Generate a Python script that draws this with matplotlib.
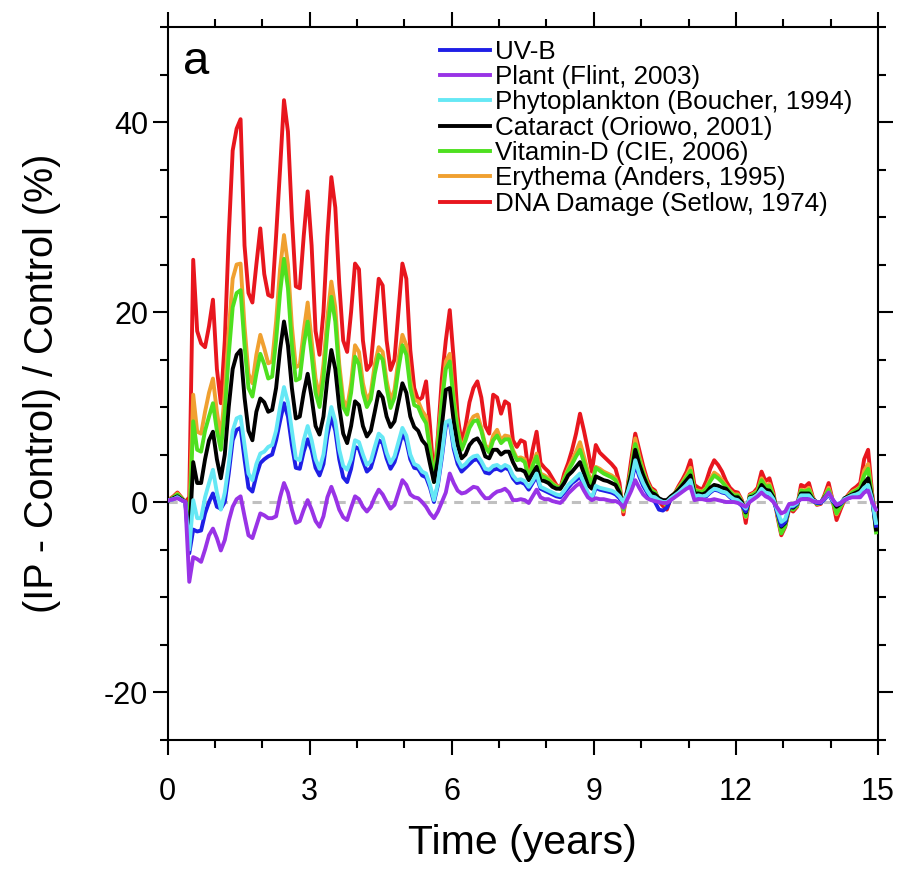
import numpy as np
import matplotlib
matplotlib.use("Agg")
import matplotlib.pyplot as plt
from matplotlib.ticker import MultipleLocator

# monthly means, mid-month time axis (years)
years = (np.arange(180) + 0.5) / 12.0

uvb = [0.2, 0.3, 0.5, 0.2, 0.0, -5.4, -2.9, -3.1, -3.0, -1.2,
       0.0, 0.9, -0.5, -0.7, 0.0, 3.0, 6.5, 7.6, 7.8, 4.5,
       1.5, 1.1, 2.8, 4.1, 4.5, 4.8, 5.0, 6.5, 8.5, 10.4,
       9.0, 6.0, 3.6, 3.5, 5.3, 6.6, 5.5, 3.6, 2.8, 4.0,
       7.0, 9.0, 7.5, 4.5, 2.6, 2.1, 3.5, 5.8, 5.6, 4.3,
       3.2, 3.6, 5.0, 6.5, 6.2, 4.6, 3.5, 4.2, 5.6, 7.2,
       6.4, 4.5, 3.6, 3.5, 2.8, 2.6, 1.5, 0.0, 1.8, 4.7,
       8.0, 8.4, 5.6, 4.0, 3.2, 3.6, 4.0, 4.4, 4.5, 3.9,
       3.1, 3.0, 3.4, 3.5, 3.3, 3.6, 3.4, 2.5, 2.0, 2.1,
       1.9, 1.3, 2.0, 2.7, 1.4, 1.2, 1.0, 0.8, 0.6, 0.5,
       1.0, 1.5, 2.0, 2.3, 2.7, 1.7, 0.8, 0.3, 1.5, 1.3,
       1.2, 1.1, 1.0, 0.8, 0.4, -0.3, 0.7, 2.0, 4.0, 2.7,
       1.7, 1.0, 0.4, 0.0, -0.8, -0.9, -0.6, 0.3, 0.6, 0.9,
       1.3, 1.7, 2.1, 0.5, 0.6, 0.5, 0.6, 1.0, 1.3, 1.2,
       1.0, 0.9, 0.5, 0.2, 0.0, -0.4, -1.0, 0.3, 0.4, 0.7,
       1.3, 0.9, 0.8, 0.2, -1.1, -2.5, -2.1, -0.5, -0.5, -0.2,
       0.6, 0.6, 0.6, 0.1, -0.1, -0.1, 0.3, 0.8, 0.1, -0.3,
       -0.2, 0.2, 0.4, 0.6, 0.7, 0.9, 1.3, 1.6, 0.2, -2.5]

plant = [0.2, 0.3, 0.4, 0.2, 0.0, -8.4, -5.8, -6.0, -6.3, -5.0,
         -3.5, -2.8, -3.8, -5.1, -4.0, -2.0, -0.5, 0.3, 0.6, -1.5,
         -3.5, -3.8, -2.5, -1.2, -1.4, -1.7, -1.7, -1.5, 0.5, 2.0,
         1.0, -0.8, -2.2, -2.0, -0.8, 0.2, -0.8, -2.0, -2.6, -1.5,
         0.5, 1.6, 0.5, -0.8, -1.6, -1.9, -0.6, 0.6, 0.3, -0.5,
         -1.0, -0.5, 0.5, 1.3, 0.8, 0.0, -0.7, -0.3, 1.0, 2.3,
         1.8, 0.8, 0.5, 0.4, 0.0, -0.5, -1.2, -1.7, -1.0, 0.0,
         1.0, 3.0, 2.0, 1.2, 0.9, 1.0, 1.3, 1.6, 1.5, 0.9,
         0.4, 0.4, 0.8, 1.1, 1.2, 1.4, 1.0, 0.2, 0.2, 0.3,
         0.2, -0.1, 0.6, 1.3, 0.5, 0.3, 0.3, 0.1, 0.0, -0.1,
         0.3, 0.9, 1.3, 1.7, 2.0, 1.2, 0.5, 0.2, 0.4, 0.3,
         0.3, 0.2, 0.1, 0.1, -0.1, -0.6, 0.3, 1.2, 2.3, 1.5,
         0.8, 0.4, 0.2, 0.1, 0.0, -0.1, -0.1, 0.2, 0.5, 0.8,
         1.1, 1.4, 1.6, 0.2, 0.3, 0.3, 0.2, 0.2, 0.3, 0.2,
         0.1, 0.0, 0.0, 0.0, -0.1, -0.3, -0.5, 0.0, 0.3, 0.6,
         1.0, 0.6, 0.4, 0.0, -0.6, -1.2, -1.0, -0.2, -0.2, 0.0,
         0.3, 0.3, 0.3, 0.1, 0.0, 0.0, 0.4, 1.0, 0.3, -0.3,
         -0.1, 0.2, 0.4, 0.5, 0.5, 0.5, 1.0, 1.2, 0.0, -0.8]

phyto = [0.2, 0.3, 0.5, 0.2, 0.0, -5.0, 0.2, -1.7, -1.7, 0.5,
         2.0, 3.4, 1.0, -0.8, 1.0, 4.0, 7.5, 8.8, 9.0, 6.0,
         3.0, 2.3, 4.0, 5.1, 5.3, 5.8, 6.0, 7.5, 10.0, 12.1,
         10.5, 7.5, 4.6, 4.4, 6.5, 8.0, 6.5, 4.5, 3.5, 5.0,
         8.0, 10.0, 8.5, 5.5, 3.8, 3.4, 4.5, 6.5, 6.3, 5.0,
         3.9, 4.3, 5.8, 7.2, 6.8, 5.2, 4.1, 4.8, 6.3, 7.8,
         7.0, 5.0, 4.0, 3.8, 3.2, 3.0, 1.8, 0.2, 2.0, 5.0,
         8.4, 8.6, 6.0, 4.5, 3.7, 4.0, 4.5, 4.8, 4.9, 4.3,
         3.5, 3.4, 3.8, 3.9, 3.6, 3.9, 3.7, 2.8, 2.3, 2.4,
         2.2, 1.6, 2.2, 3.0, 1.6, 1.4, 1.2, 1.0, 0.8, 0.7,
         1.2, 1.8, 2.2, 2.6, 3.0, 2.0, 1.0, 0.4, 1.7, 1.5,
         1.4, 1.3, 1.2, 1.0, 0.6, 0.0, 0.9, 2.3, 4.4, 3.0,
         2.0, 1.2, 0.6, 0.5, 0.2, 0.0, 0.0, 0.4, 0.7, 1.0,
         1.4, 1.8, 2.3, 0.6, 0.7, 0.6, 0.7, 1.1, 1.4, 1.3,
         1.1, 1.0, 0.6, 0.3, 0.2, -0.2, -0.7, 0.4, 0.5, 0.8,
         1.4, 1.0, 0.9, 0.3, -0.9, -2.1, -1.8, -0.4, -0.4, -0.1,
         0.7, 0.7, 0.7, 0.2, 0.0, 0.0, 0.4, 0.9, 0.2, -0.2,
         -0.1, 0.3, 0.5, 0.7, 0.8, 1.0, 1.5, 1.8, 0.3, -2.2]

cataract = [0.2, 0.4, 0.6, 0.3, 0.0, -4.0, 4.2, 2.0, 2.0, 4.5,
            6.5, 7.4, 4.5, 2.5, 5.0, 10.0, 14.0, 15.5, 16.0, 11.0,
            7.5, 6.5, 9.5, 10.9, 10.5, 9.5, 9.7, 12.0, 16.0, 19.0,
            16.5, 12.0, 8.8, 9.0, 11.5, 13.5, 11.0, 8.0, 7.1, 9.0,
            13.0, 16.0, 14.0, 10.0, 7.2, 6.2, 8.0, 10.6, 10.2, 8.0,
            6.9, 7.5, 9.5, 11.6, 11.0, 9.0, 7.9, 8.5, 10.5, 12.5,
            11.5, 9.0, 7.9, 7.5, 6.5, 6.0, 4.0, 2.1, 4.5, 8.0,
            11.8, 12.0, 8.5, 6.0, 4.6, 5.0, 6.0, 6.5, 6.7, 6.0,
            4.8, 4.6, 5.5, 5.5, 5.0, 5.3, 5.3, 4.2, 3.4, 3.4,
            3.2, 2.3, 3.0, 3.7, 2.3, 2.2, 2.0, 1.6, 1.4, 1.4,
            2.0, 2.8, 3.2, 3.7, 4.2, 3.0, 1.8, 1.4, 2.7, 2.5,
            2.3, 2.2, 2.0, 1.8, 1.0, -0.3, 1.2, 3.0, 5.5, 4.0,
            2.8, 1.8, 1.0, 0.8, 0.4, 0.2, 0.2, 0.6, 0.9, 1.3,
            1.8, 2.3, 2.8, 0.9, 0.9, 0.8, 1.0, 1.5, 1.8, 1.7,
            1.5, 1.4, 0.9, 0.5, 0.5, 0.0, -1.1, 0.5, 0.6, 0.9,
            1.8, 1.3, 1.2, 0.5, -1.0, -2.6, -2.2, -0.5, -0.6, -0.2,
            0.9, 0.9, 0.9, 0.3, 0.0, 0.0, 0.5, 0.9, 0.2, -0.5,
            -0.2, 0.4, 0.6, 0.8, 1.0, 1.2, 2.0, 2.5, 0.5, -2.9]

vitamin_d = [0.2, 0.5, 0.8, 0.4, 0.0, -2.5, 8.5, 5.5, 5.3, 7.5,
             9.0, 10.4, 7.5, 5.5, 9.5, 15.5, 20.5, 22.0, 22.3, 16.5,
             12.0, 11.1, 13.5, 15.6, 14.5, 13.0, 13.2, 17.0, 22.0, 25.6,
             22.5, 16.5, 12.8, 13.0, 16.5, 19.0, 15.5, 11.5, 10.0, 13.0,
             18.0, 21.6, 19.0, 13.5, 10.0, 9.2, 11.5, 15.3, 14.5, 11.5,
             10.0, 10.8, 13.5, 15.5, 15.0, 12.0, 9.9, 11.0, 14.0, 16.5,
             15.5, 12.0, 10.2, 10.0, 9.0, 8.3, 5.5, 2.1, 6.0, 10.5,
             14.0, 14.8, 10.5, 7.5, 5.5, 6.5, 7.8, 8.5, 8.6, 7.5,
             5.8, 5.2, 6.5, 7.0, 6.2, 6.6, 6.6, 5.3, 4.4, 4.5,
             4.2, 2.5, 3.8, 4.8, 2.8, 2.6, 2.3, 1.9, 1.6, 1.4,
             2.4, 3.3, 4.0, 4.8, 5.5, 4.2, 2.8, 1.8, 3.6, 3.3,
             3.0, 2.8, 2.6, 2.3, 1.3, -0.8, 1.2, 3.5, 6.1, 4.5,
             3.1, 2.0, 1.2, 1.0, 0.3, 0.0, -0.3, 0.5, 0.9, 1.4,
             2.0, 2.6, 3.3, 1.2, 1.1, 1.0, 1.4, 2.2, 2.8, 2.5,
             2.1, 1.6, 1.1, 0.7, 0.7, 0.0, -1.5, 0.6, 0.8, 1.1,
             2.3, 1.6, 1.7, 0.6, -1.2, -3.3, -2.5, -0.6, -0.8, -0.4,
             1.2, 1.1, 1.3, 0.3, -0.2, -0.1, 0.6, 1.3, 0.1, -1.2,
             -0.5, 0.3, 0.6, 1.0, 1.2, 1.5, 2.8, 3.5, 0.6, -3.2]

erythema = [0.3, 0.5, 0.9, 0.4, 0.0, -1.5, 11.3, 7.4, 7.2, 9.5,
            11.5, 13.0, 9.5, 6.7, 11.5, 18.0, 23.5, 25.0, 25.1, 18.5,
            13.5, 12.5, 15.5, 17.6, 16.2, 14.6, 14.8, 19.0, 24.5, 28.1,
            25.0, 18.5, 14.2, 14.4, 18.0, 21.0, 17.0, 13.0, 11.0, 14.5,
            19.5, 23.2, 20.5, 14.5, 10.8, 9.9, 12.5, 16.5, 15.8, 12.5,
            10.7, 11.5, 14.5, 16.3, 15.8, 12.8, 10.7, 11.8, 15.0, 17.6,
            16.5, 12.8, 10.8, 10.6, 9.6, 9.0, 5.8, 2.2, 6.5, 11.0,
            14.8, 15.6, 11.0, 7.8, 5.6, 6.8, 8.3, 9.0, 9.2, 7.8,
            6.0, 5.5, 7.0, 7.6, 6.5, 7.0, 6.9, 5.5, 4.6, 4.7,
            4.5, 2.5, 4.0, 5.1, 3.0, 2.8, 2.5, 2.0, 1.7, 1.4,
            2.5, 3.5, 4.4, 5.3, 6.3, 4.8, 3.2, 2.0, 3.7, 3.5,
            3.2, 3.0, 2.8, 2.5, 1.4, -1.0, 1.2, 3.7, 6.7, 4.8,
            3.3, 2.1, 1.3, 1.0, 0.3, 0.0, -0.4, 0.5, 0.9, 1.5,
            2.1, 2.8, 3.6, 1.3, 1.2, 1.1, 1.5, 2.4, 3.1, 2.8,
            2.3, 1.7, 1.2, 0.8, 0.8, 0.1, -1.6, 0.7, 0.9, 1.2,
            2.5, 1.8, 1.9, 0.7, -1.2, -3.2, -2.4, -0.6, -0.8, -0.4,
            1.3, 1.2, 1.5, 0.4, -0.2, -0.1, 0.6, 1.5, 0.2, -1.3,
            -0.5, 0.3, 0.7, 1.1, 1.3, 1.6, 3.3, 4.0, 0.7, -3.0]

dna = [0.3, 0.6, 1.0, 0.5, 0.0, 0.5, 25.5, 18.0, 16.7, 16.3,
       18.5, 21.3, 14.0, 10.4, 17.0, 28.0, 37.0, 39.3, 40.3, 27.0,
       22.0, 21.0, 25.0, 28.8, 24.0, 21.8, 21.6, 28.0, 35.0, 42.3,
       39.0, 30.0, 22.7, 22.5, 28.0, 32.7, 27.0, 18.0, 15.5, 20.0,
       28.0, 34.2, 31.0, 23.0, 17.0, 15.8, 20.0, 25.1, 24.5, 17.0,
       13.9, 14.5, 19.0, 23.5, 22.8, 17.0, 13.9, 15.0, 20.0, 25.1,
       23.5, 16.0, 12.0, 10.7, 11.0, 12.7, 8.0, 2.3, 7.0, 13.0,
       17.0, 20.2, 15.0, 9.0, 6.2, 8.0, 10.5, 12.0, 12.7, 11.0,
       8.0, 7.2, 11.3, 11.0, 9.3, 10.6, 10.3, 6.5, 5.8, 6.5,
       6.3, 3.0, 5.5, 7.4, 4.1, 3.6, 3.2, 2.5, 1.8, 1.4,
       3.0, 4.1, 5.5, 7.2, 9.3, 7.5, 5.5, 3.2, 6.0, 5.2,
       4.8, 4.4, 4.0, 3.5, 2.0, -1.3, 1.5, 4.5, 7.2, 5.5,
       3.8, 2.4, 1.5, 1.2, 0.1, -0.4, -0.8, 0.4, 0.9, 1.7,
       2.4, 3.2, 4.4, 1.8, 1.5, 1.3, 2.2, 3.5, 4.4, 3.9,
       3.2, 2.2, 1.5, 1.1, 1.0, 0.2, -2.2, 0.8, 1.0, 1.5,
       3.2, 2.2, 2.5, 1.0, -1.5, -3.5, -2.6, -0.7, -1.0, -0.5,
       1.8, 1.6, 2.0, 0.5, -0.3, -0.2, 0.8, 2.0, 0.2, -1.9,
       -0.8, 0.2, 0.8, 1.3, 1.6, 2.0, 4.5, 5.5, 1.0, -2.2]

labels = ["UV-B", "Plant (Flint, 2003)", "Phytoplankton (Boucher, 1994)",
          "Cataract (Oriowo, 2001)", "Vitamin-D (CIE, 2006)",
          "Erythema (Anders, 1995)", "DNA Damage (Setlow, 1974)"]
series = [uvb, plant, phyto, cataract, vitamin_d, erythema, dna]
colors = ["#1f1fe6", "#9933e6", "#66e8f5", "#000000", "#4ee01f", "#f0a030", "#e8161e"]
zorders = [5, 8, 6, 4, 3, 2, 1]

plt.rcParams["font.family"] = ["Liberation Sans", "DejaVu Sans"]
plt.rcParams["axes.unicode_minus"] = False

fig = plt.figure(figsize=(8.97, 8.69), dpi=100)
ax = fig.add_axes([0.1868, 0.1490, 0.7920, 0.8199])

ax.axhline(0, color="#c0c0c0", lw=2.2, ls=(0, (3, 2.5)), zorder=0)

for vals, lab, col, z in zip(series, labels, colors, zorders):
    ax.plot(years, vals, color=col, lw=2.8, label=lab, zorder=z)

ax.set_xlim(0, 15)
ax.set_ylim(-25, 50)
ax.xaxis.set_major_locator(MultipleLocator(3))
ax.xaxis.set_minor_locator(MultipleLocator(1))
ax.yaxis.set_major_locator(MultipleLocator(20))
ax.yaxis.set_minor_locator(MultipleLocator(5))
ax.tick_params(which="both", direction="out", top=True, right=True,
               width=1.5, labelsize=22)
ax.tick_params(which="major", length=11)
ax.tick_params(which="minor", length=6)
ax.tick_params(axis="x", which="major", pad=16)
ax.tick_params(axis="y", which="major", pad=3)
for s in ax.spines.values():
    s.set_linewidth(1.5)

ax.set_xlabel("Time (years)", fontsize=29.5, labelpad=12)
ax.set_ylabel("(IP - Control) / Control (%)", fontsize=28.5, labelpad=31)

ax.text(0.022, 0.982, "a", transform=ax.transAxes, fontsize=34,
        va="top", ha="left")

ax.legend(loc="upper left", bbox_to_anchor=(0.384, 0.982), frameon=False,
          fontsize=18.7, handlelength=1.92, handletextpad=0.2,
          labelspacing=0.05, borderpad=0, borderaxespad=0)

fig.savefig("out.png", dpi=100)
